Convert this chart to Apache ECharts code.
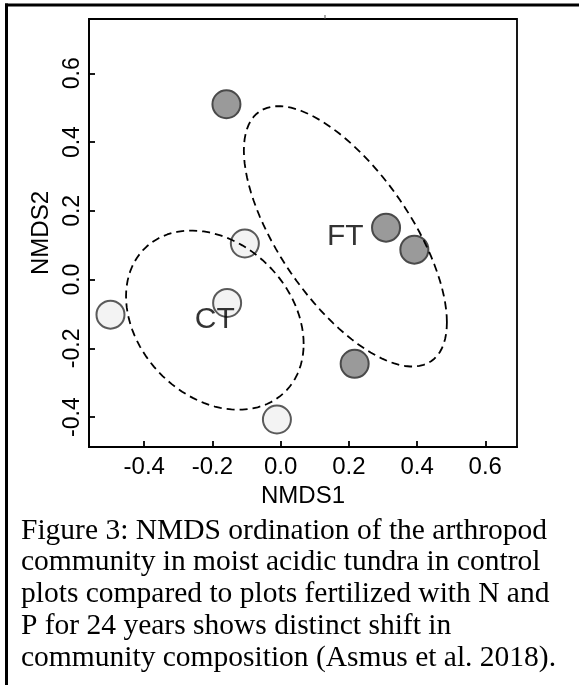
<!DOCTYPE html>
<html>
<head>
<meta charset="utf-8">
<script src="https://cdn.jsdelivr.net/npm/echarts@6/dist/echarts.min.js"></script>
<style>
  html, body { margin: 0; padding: 0; background: #ffffff; }
  #chart { width: 579px; height: 685px; }
</style>
</head>
<body>
<div id="chart"></div>
<script>
// ---- data ----
const xTicks = [-0.4, -0.2, 0.0, 0.2, 0.4, 0.6];
const yTicks = [-0.4, -0.2, 0.0, 0.2, 0.4, 0.6];

// Control tundra (CT) site scores
const ctX = [-0.105, -0.499, -0.157, -0.011];
const ctY = [0.105, -0.102, -0.068, -0.407];
// Fertilized tundra (FT) site scores
const ftX = [-0.159, 0.309, 0.392, 0.217];
const ftY = [0.510, 0.151, 0.087, -0.245];

const groupNames = ['CT', 'FT'];
const ellipseConf = 0.95; // ordiellipse(kind = "se", conf = 0.95)

const captionLines = [
  'Figure 3: NMDS ordination of the arthropod',
  'community in moist acidic tundra in control',
  'plots compared to plots fertilized with N and',
  'P for 24 years shows distinct shift in',
  'community composition (Asmus et al. 2018).'
];

// ---- helpers ----
function mean(a) { return a.reduce((s, v) => s + v, 0) / a.length; }
function zip(xs, ys) { return xs.map((x, i) => [x, ys[i]]); }

// standard-error ellipse as computed by vegan::ordiellipse (kind="se")
function seEllipse(xs, ys, conf) {
  const n = xs.length;
  const mx = mean(xs), my = mean(ys);
  let a = 0, b = 0, c = 0;
  for (let i = 0; i < n; i++) {
    const dx = xs[i] - mx, dy = ys[i] - my;
    a += dx * dx; b += dx * dy; c += dy * dy;
  }
  a /= (n - 1); b /= (n - 1); c /= (n - 1);
  a /= n; b /= n; c /= n;            // standard error of centroid
  const scale = Math.sqrt(-2 * Math.log(1 - conf)); // sqrt(qchisq(conf, 2))
  const r11 = Math.sqrt(a), r12 = b / r11, r22 = Math.sqrt(c - r12 * r12);
  const pts = [];
  const np = 100;
  for (let k = 0; k <= np; k++) {
    const t = 2 * Math.PI * k / np;
    const u = Math.cos(t), v = Math.sin(t);
    pts.push([mx + scale * u * r11, my + scale * (u * r12 + v * r22)]);
  }
  return pts;
}

const ctCentroid = [mean(ctX), mean(ctY)];
const ftCentroid = [mean(ftX), mean(ftY)];

const sansFont = '"Liberation Sans", Arial, Helvetica, sans-serif';
const serifFont = '"Liberation Serif", "Times New Roman", serif';

const chart = echarts.init(document.getElementById('chart'), null, { renderer: 'canvas' });

const axisCommon = {
  type: 'value',
  axisLine: { show: true, onZero: false, lineStyle: { color: '#000', width: 1.8 } },
  axisTick: { show: true, inside: true, length: 6, lineStyle: { color: '#000', width: 1.8 } },
  splitLine: { show: false },
  nameTextStyle: { color: '#000', fontFamily: sansFont, fontSize: 24 }
};

chart.setOption({
  animation: false,
  backgroundColor: '#ffffff',
  grid: {
    left: 89, top: 19, right: 62, bottom: 238,
    show: true, borderColor: '#000', borderWidth: 1.8, backgroundColor: 'transparent'
  },
  xAxis: Object.assign({}, axisCommon, {
    min: -0.562, max: 0.693,
    name: 'NMDS1', nameLocation: 'middle', nameGap: 25,
    axisTick: Object.assign({}, axisCommon.axisTick, { customValues: xTicks }),
    axisLabel: {
      customValues: xTicks, margin: 8, color: '#000',
      fontFamily: sansFont, fontSize: 24,
      formatter: v => v.toFixed(1)
    }
  }),
  yAxis: Object.assign({}, axisCommon, {
    min: -0.487, max: 0.758,
    name: 'NMDS2', nameLocation: 'middle', nameGap: 31,
    axisTick: Object.assign({}, axisCommon.axisTick, { customValues: yTicks }),
    axisLabel: {
      customValues: yTicks, margin: 5, rotate: 90, color: '#000',
      fontFamily: sansFont, fontSize: 23,
      formatter: v => v.toFixed(1)
    }
  }),
  series: [
    {
      type: 'scatter', name: 'CT', z: 2,
      data: zip(ctX, ctY), symbol: 'circle', symbolSize: 28,
      itemStyle: { color: '#f3f3f3', borderColor: '#5a5a5a', borderWidth: 2, opacity: 1 }
    },
    {
      type: 'scatter', name: 'FT', z: 2,
      data: zip(ftX, ftY), symbol: 'circle', symbolSize: 28,
      itemStyle: { color: '#9a9a9a', borderColor: '#4a4a4a', borderWidth: 2, opacity: 1 }
    },
    {
      type: 'line', z: 3, showSymbol: false, smooth: false, silent: true,
      data: seEllipse(ctX, ctY, ellipseConf),
      lineStyle: { color: '#000', width: 1.8, type: [8, 5] }
    },
    {
      type: 'line', z: 3, showSymbol: false, smooth: false, silent: true,
      data: seEllipse(ftX, ftY, ellipseConf),
      lineStyle: { color: '#000', width: 1.8, type: [8, 5] }
    },
    {
      type: 'scatter', z: 4, symbolSize: 0, silent: true,
      data: [
        { value: ctCentroid, name: groupNames[0] },
        { value: ftCentroid, name: groupNames[1] }
      ],
      label: {
        show: true, position: 'inside', formatter: p => p.name,
        color: '#000', fontFamily: sansFont, fontSize: 30
      }
    }
  ],
  graphic: [
    { type: 'line', shape: { x1: 6.5, y1: 3.5, x2: 6.5, y2: 685 }, style: { stroke: '#000', lineWidth: 3 } },
    { type: 'line', shape: { x1: 5, y1: 5, x2: 579, y2: 5 }, style: { stroke: '#000', lineWidth: 3 } },
    { type: 'line', shape: { x1: 325, y1: 15, x2: 325, y2: 19 }, style: { stroke: '#555', lineWidth: 1 } },
    {
      type: 'group', left: 21, top: 516,
      children: captionLines.map((t, i) => ({
        type: 'text', x: 0, y: i * 31.7,
        style: { text: t, fill: '#000', font: '29.5px ' + serifFont, textVerticalAlign: 'top' }
      }))
    }
  ]
});
</script>
</body>
</html>
